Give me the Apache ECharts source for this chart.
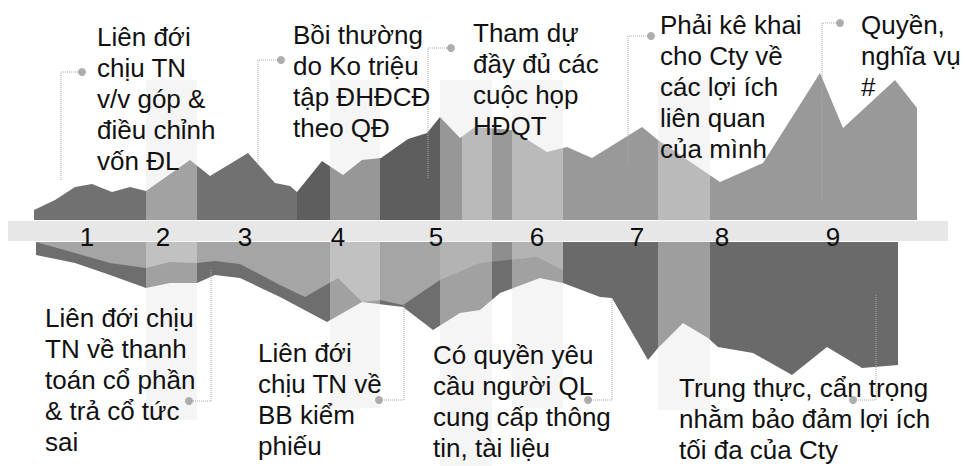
<!DOCTYPE html>
<html>
<head>
<meta charset="utf-8">
<script src="https://cdn.jsdelivr.net/npm/echarts@6.0.0/dist/echarts.min.js"></script>
<style>
  html, body { margin: 0; padding: 0; background: #fff; }
  #main { width: 965px; height: 466px; }
</style>
</head>
<body>
<div id="main"></div>
<script>
// upper ridge: position along the strip, height above the band
const topX = [34, 55, 75, 92, 112, 130, 146, 190, 210, 248, 275, 290, 297, 322, 343, 362, 381, 408, 427, 440, 460, 475, 512, 547, 567, 592, 642, 658, 720, 763, 820, 843, 895, 917];
const topH = [10, 20, 33, 36, 28, 33, 29, 60, 44, 67, 37, 34, 28, 59, 45, 60, 62, 81, 87, 103, 82, 93, 90, 68, 73, 62, 93, 80, 38, 57, 147, 92, 140, 112];

// lower ridges: depth below the band
const innerX = [36, 75, 110, 146, 170, 197, 215, 240, 280, 305, 338, 362, 380, 403, 440, 480, 537, 563];
const innerD = [0, 11, 21, 26, 20, 21, 19, 22, 43, 55, 36, 60, 58, 63, 38, 21, 15, 28];
const outerX = [36, 75, 110, 146, 170, 197, 215, 240, 280, 327, 362, 403, 433, 460, 480, 500, 540, 563];
const outerD = [13, 21, 33, 46, 41, 41, 33, 36, 55, 80, 60, 65, 88, 71, 68, 51, 36, 41];
const rightX = [563, 600, 612, 648, 658, 683, 708, 718, 753, 792, 827, 862, 898];
const rightD = [41, 55, 56, 118, 106, 81, 96, 105, 111, 133, 105, 126, 123];

// step numbers on the band
const stepLabels = ['1', '2', '3', '4', '5', '6', '7', '8', '9'];
const stepPos = [87, 163, 245, 338, 436, 537, 637, 722, 833];

// light highlight columns: start, end, depth below band
const hlStart = [146, 330, 440, 512, 658];
const hlEnd = [197, 380, 492, 563, 710];
const hlDepth = [178, 166, 224, 166, 168];
const hlTop = 140;

// callouts: stem x, stem start, stem end, dot x
const topCallouts = [[61, 40, 148, 82], [258, 57, 160, 281], [428, 42, 172, 451], [628, 55, 184, 651], [822, 20, 197, 840]];
const bottomCallouts = [[211, 28, 159, 189], [404, 63, 158, 379], [612, 56, 158, 588], [876, 53, 158, 853]];

const topTexts = [
  'Liên đới\nchịu TN\nv/v góp &\nđiều chỉnh\nvốn ĐL',
  'Bồi thường\ndo Ko triệu\ntập ĐHĐCĐ\ntheo QĐ',
  'Tham dự\nđầy đủ các\ncuộc họp\nHĐQT',
  'Phải kê khai\ncho Cty về\ncác lợi ích\nliên quan\ncủa mình',
  'Quyền,\nnghĩa vụ\n#'
];
const bottomTexts = [
  'Liên đới chịu\nTN về thanh\ntoán cổ phần\n& trả cổ tức\nsai',
  'Liên đới\nchịu TN về\nBB kiểm\nphiếu',
  'Có quyền yêu\ncầu người QL\ncung cấp thông\ntin, tài liệu',
  'Trung thực, cẩn trọng\nnhằm bảo đảm lợi ích\ntối đa của Cty'
];

const zip = (xs, ys) => xs.map((x, i) => [x, ys[i]]);
const FONT = '"Liberation Sans", Arial, sans-serif';
const HL = 'rgba(232,232,232,0.42)';
const W = 965;

// hard colour steps along x (grid spans the full width)
function steps(cuts, colors) {
  const stops = [{ offset: 0, color: colors[0] }];
  cuts.forEach((c, i) => {
    stops.push({ offset: c / W, color: colors[i] });
    stops.push({ offset: c / W, color: colors[i + 1] });
  });
  stops.push({ offset: 1, color: colors[colors.length - 1] });
  return { type: 'linear', x: 0, y: 0, x2: W, y2: 0, global: true, colorStops: stops };
}

const chart = echarts.init(document.getElementById('main'), null, { renderer: 'svg' });

const grids = [
  { left: 0, right: 0, top: 0, height: 220 },
  { left: 0, right: 0, top: 242, height: 224 },
  { left: 0, right: 0, top: 221, height: 20 }
];

function areaSeries(data, grid, color) {
  return {
    type: 'line',
    xAxisIndex: grid,
    yAxisIndex: grid,
    data: data,
    symbol: 'none',
    silent: true,
    lineStyle: { width: 0 },
    areaStyle: { color: color, opacity: 1 },
    z: 2
  };
}

function hlSeries(grid) {
  return {
    type: 'custom',
    coordinateSystem: 'cartesian2d',
    xAxisIndex: grid,
    yAxisIndex: grid,
    silent: true,
    z: 3,
    data: hlStart.map((s, i) => [s, hlEnd[i], hlDepth[i]]),
    renderItem: function (params, api) {
      const x0 = api.value(0), x1 = api.value(1);
      const p0 = grid === 0 ? api.coord([x0, hlTop]) : api.coord([x0, -1]);
      const p1 = grid === 0 ? api.coord([x1, -1]) : api.coord([x1, api.value(2)]);
      return {
        type: 'rect',
        shape: { x: p0[0], y: p0[1], width: p1[0] - p0[0], height: p1[1] - p0[1] },
        style: { fill: HL }
      };
    }
  };
}

function calloutSeries(c, grid) {
  return {
    type: 'line',
    xAxisIndex: grid,
    yAxisIndex: grid,
    data: [[c[0], c[1]], [c[0], c[2]], [c[3], c[2]]],
    symbol: 'none',
    silent: true,
    lineStyle: { color: '#a8a8a8', width: 1, type: 'dotted' },
    z: 4
  };
}

function dotSeries(list, grid) {
  return {
    type: 'scatter',
    xAxisIndex: grid,
    yAxisIndex: grid,
    data: list.map(c => [c[3], c[2]]),
    symbolSize: 8,
    silent: true,
    itemStyle: { color: '#9a9a9a' },
    z: 4
  };
}

const series = [
  areaSeries(zip(topX, topH), 0, steps([297, 462], ['#717171', '#5e5e5e', '#999999'])),
  areaSeries(zip(outerX, outerD), 1, '#6e6e6e'),
  areaSeries(zip(innerX, innerD), 1, steps([440], ['#a5a5a5', '#8e8e8e'])),
  areaSeries(zip(rightX, rightD), 1, '#6a6a6a'),
  hlSeries(0),
  hlSeries(1)
];
topCallouts.forEach(c => series.push(calloutSeries(c, 0)));
bottomCallouts.forEach(c => series.push(calloutSeries(c, 1)));
series.push(dotSeries(topCallouts, 0));
series.push(dotSeries(bottomCallouts, 1));
series.push({
  type: 'scatter',
  xAxisIndex: 2,
  yAxisIndex: 2,
  data: stepPos.map((x, i) => [x, 0.5, stepLabels[i]]),
  symbolSize: 0,
  silent: true,
  itemStyle: { color: '#111', opacity: 1 },
  label: {
    show: true,
    position: 'inside',
    offset: [0, 6],
    formatter: p => p.data[2],
    color: '#0d0d0d',
    textBorderWidth: 0,
    fontSize: 26,
    fontFamily: FONT
  },
  z: 6
});

const textPos = {
  top: [[97, 21], [293, 19], [473, 17], [660, 9], [861, 9]],
  bottom: [[45, 302], [258, 337], [433, 339], [679, 372]]
};

const graphics = [
  { type: 'rect', left: 8, top: 221, shape: { width: 940, height: 20 }, style: { fill: '#e7e7e7' }, z: 5, silent: true }
];
topTexts.forEach((t, i) => graphics.push({
  type: 'text', left: textPos.top[i][0], top: textPos.top[i][1], z: 10, silent: true,
  style: { text: t, fill: '#111', fontSize: 26, fontFamily: FONT, lineHeight: 31 }
}));
bottomTexts.forEach((t, i) => graphics.push({
  type: 'text', left: textPos.bottom[i][0], top: textPos.bottom[i][1], z: 10, silent: true,
  style: { text: t, fill: '#111', fontSize: 26, fontFamily: FONT, lineHeight: 31 }
}));

const option = {
  backgroundColor: '#fff',
  animation: false,
  grid: grids,
  xAxis: [0, 1, 2].map(i => ({ type: 'value', gridIndex: i, min: 0, max: W, show: false })),
  yAxis: [
    { type: 'value', gridIndex: 0, min: 0, max: 220, show: false },
    { type: 'value', gridIndex: 1, min: 0, max: 224, inverse: true, show: false },
    { type: 'value', gridIndex: 2, min: 0, max: 1, show: false }
  ],
  graphic: graphics,
  series: series
};

chart.setOption(option);
</script>
</body>
</html>
